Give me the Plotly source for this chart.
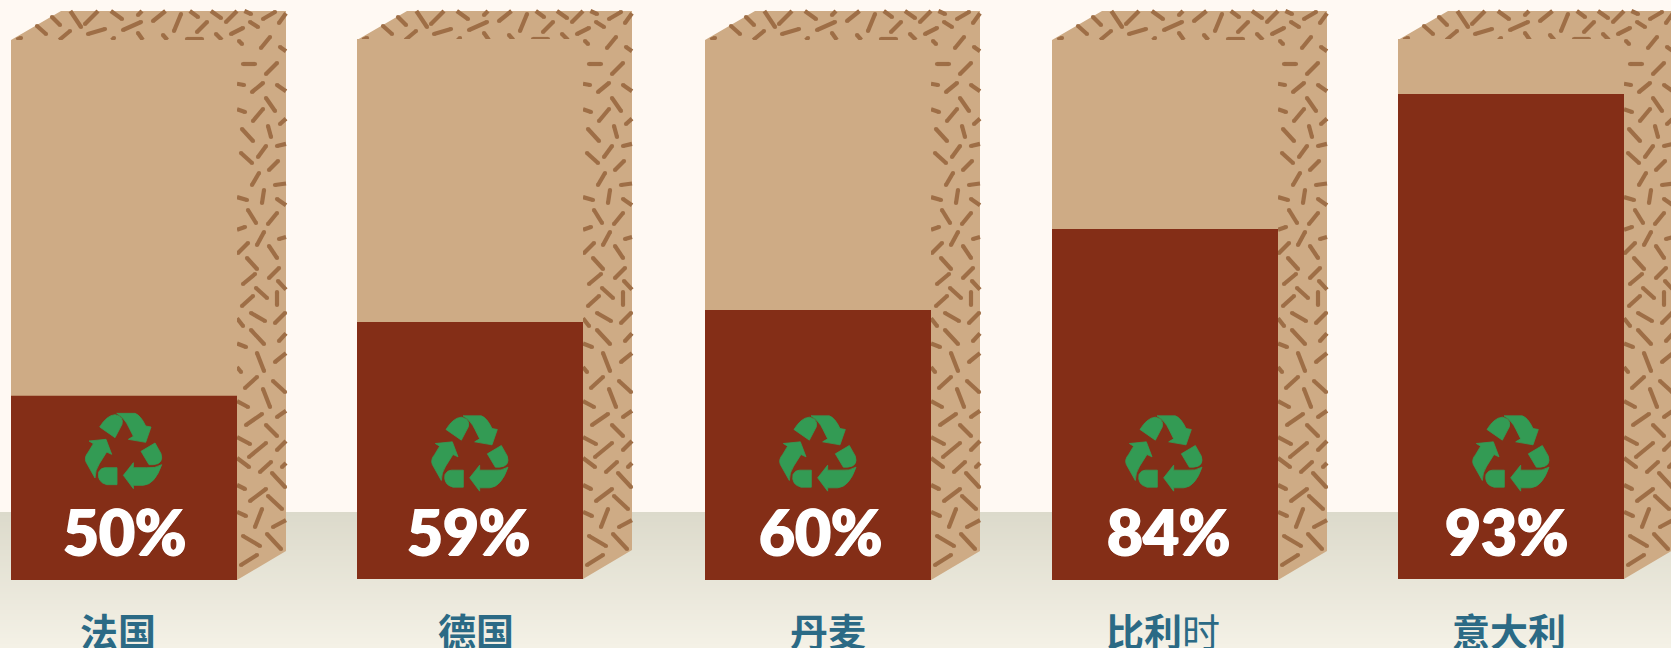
import plotly.graph_objects as go

# ---- data ----
countries = ["<b>法国</b>", "<b>德国</b>", "<b>丹麦</b>", "<b>比利</b>时", "<b>意大利</b>"]
percent_labels = ["50%", "59%", "60%", "84%", "93%"]
fill_levels = [34.1, 47.6, 50.0, 65.0, 89.8]      # drawn height of the dark fill, % of the box
box_levels = [100, 100, 100, 100, 100]

# ---- layout constants (pixels) ----
W, H = 1671, 648
box_left = [11, 357, 705, 1052, 1398]
box_bottom = [580, 579, 580, 580, 579]
FRONT_W, BOX_TOP, BOX_H, DEPTH_X, DEPTH_Y = 226, 40, 540, 49, 29
value_x = [124.7, 468, 820.6, 1168, 1506]
label_x = [117.5, 476, 828, 1163, 1509]
icon_x = [123.7, 470, 818, 1164, 1511]
icon_y = [451, 453.5, 453.5, 453.5, 453.5]
PX_PER_LEVEL = BOX_H / 100

BG = "#FFF9F3"
TAN = "#CEAB85"
FILL = "#842E17"
DASH = "#9E6E46"
GREEN = "#339B54"
BLUE = "#2B6A85"
FLOOR_TOP = (220, 218, 203)
FLOOR_BOTTOM = (244, 241, 230)
FLOOR_Y = 512

# texture of the cardboard (one box, pixels)
speckles = [
    (52,17,60,25),(69,9,81,27),(37,26,46,34),(85,24,100,9),(108,9,122,19),(138,15,144,9),(153,21,168,9),
    (174,31,181,14),(187,9,198,17),(208,9,221,18),(226,22,239,9),(240,9,251,14),(197,32,207,22),(123,30,141,22),
    (88,34,105,29),(58,41,70,31),(12,42,21,38),(108,43,114,38),(138,33,145,43),(163,35,170,43),(187,39,202,39),
    (216,34,225,43),(231,34,243,28),(250,22,258,27),(263,19,275,12),(279,23,289,9),(239,41,242,44),(261,48,270,37),
    (280,47,290,54),(243,64,255,64),(266,74,277,63),(233,83,244,85),(252,92,263,83),(277,85,290,94),(266,98,275,111),
    (233,108,245,112),(253,121,263,109),(280,124,290,115),(242,129,253,141),(268,126,271,137),(277,146,290,143),
    (258,157,266,146),(241,153,252,163),(269,170,278,161),(252,185,259,173),(275,185,290,183),(233,196,247,200),
    (262,203,264,190),(277,199,290,208),(248,210,256,223),(268,224,277,213),(233,231,245,227),(257,245,264,232),
    (279,239,290,236),(238,253,248,243),(269,246,277,258),(247,258,257,269),(269,278,279,268),(243,284,255,274),
    (278,281,290,294),(256,288,267,298),(242,306,253,296),(277,305,277,292),(251,313,265,321),(275,323,285,313),
    (233,313,243,326),(251,330,264,344),(279,341,290,329),(233,342,246,347),(257,353,264,371),(275,362,290,350),
    (233,362,241,372),(245,388,257,377),(273,381,285,392),(263,389,270,407),(233,399,248,407),(246,425,262,414),
    (277,417,290,408),(266,425,277,436),(233,435,250,444),(249,457,266,443),(277,450,290,437),(233,455,249,467),
    (260,472,271,462),(282,467,290,459),(272,473,285,487),(233,483,245,489),(250,501,266,489),(268,496,282,509),
    (233,510,246,516),(255,527,262,509),(273,527,290,518),(243,536,260,546),(267,534,281,549),(241,565,257,555),
    (248,573,254,569),
]
TOP_POLY = [(11,40),(61,11),(286,11),(237,40)]
SIDE_POLY = [(237,40),(286,11),(286,550),(237,579)]


def clip(seg, poly):
    """Cyrus-Beck clip of a segment to a clockwise (on screen) convex polygon."""
    x0, y0, x1, y1 = seg
    dx, dy = x1 - x0, y1 - y0
    t0, t1 = 0.0, 1.0
    for i in range(len(poly)):
        ax, ay = poly[i]
        bx, by = poly[(i + 1) % len(poly)]
        nx, ny = -(by - ay), bx - ax          # inward normal
        d = nx * dx + ny * dy
        n = nx * (x0 - ax) + ny * (y0 - ay)
        if d == 0:
            if n < 0:
                return None
        elif d > 0:
            t0 = max(t0, -n / d)
        else:
            t1 = min(t1, -n / d)
    if t0 >= t1:
        return None
    return (x0 + t0 * dx, y0 + t0 * dy, x0 + t1 * dx, y0 + t1 * dy, t0 == 0.0, t1 == 1.0)


line_x, line_y, cap_x, cap_y = [], [], [], []
for left in box_left:
    off = left - box_left[0]
    for seg in speckles:
        for poly in (TOP_POLY, SIDE_POLY):
            c = clip(seg, poly)
            if c is None:
                continue
            x0, y0, x1, y1, keep0, keep1 = c
            line_x += [x0 + off, x1 + off, None]
            line_y += [y0, y1, None]
            if keep0:
                cap_x.append(x0 + off); cap_y.append(y0)
            if keep1:
                cap_x.append(x1 + off); cap_y.append(y1)

shapes = []
# floor gradient
steps = (H - FLOOR_Y) // 2
for i in range(steps):
    f = i / (steps - 1)
    rgb = tuple(round(a + (b - a) * f) for a, b in zip(FLOOR_TOP, FLOOR_BOTTOM))
    shapes.append(dict(type="rect", xref="x", yref="y", layer="below",
                       x0=0, x1=W, y0=FLOOR_Y + i * 2, y1=FLOOR_Y + i * 2 + 2.5,
                       fillcolor="rgb(%d,%d,%d)" % rgb, line_width=0))

# top and side faces
for left, bottom in zip(box_left, box_bottom):
    right = left + FRONT_W
    shapes.append(dict(type="path", xref="x", yref="y", layer="below", fillcolor=TAN, line_width=0,
                       path=f"M{left},{BOX_TOP}L{left+DEPTH_X+1},{BOX_TOP-DEPTH_Y}L{right+DEPTH_X},{BOX_TOP-DEPTH_Y}"
                            f"L{right+DEPTH_X},{bottom-DEPTH_Y}L{right},{bottom}L{right},{BOX_TOP}Z"))

# recycling symbol, outline units are 1/3 px around (371,212)
ICON = [
    [("M",299,140),("Q",320,105,345,103),("Q",372,108,366,132),("L",345,172)],
    [("M",350,99),("L",405,99),("Q",422,105,437,137),("L",453,140),("L",437,186),("L",385,177),("L",400,168),("L",386,140),("Q",375,115,350,99)],
    [("M",423,213),("L",465,188),("L",483,220),("Q",492,250,460,253),("L",447,253)],
    [("M",485,253),("Q",465,312,430,315),("L",400,315),("L",400,325),("L",370,285),("L",400,247),("L",400,262),("L",440,262),("Q",465,265,485,253)],
    [("M",351,262),("L",351,313),("L",320,313),("Q",290,305,296,275),("Q",303,262,315,262)],
    [("M",285,293),("L",258,245),("Q",252,230,265,215),("L",280,190),("L",267,182),("L",318,177),("L",335,222),("L",320,215),("L",298,250),("Q",285,270,285,293)],
]
for cx, cy in zip(icon_x, icon_y):
    d = ""
    for piece in ICON:
        for cmd in piece:
            pts = cmd[1:]
            mapped = [(cx + (pts[k] - 371) / 3, cy + (pts[k + 1] - 212) / 3) for k in range(0, len(pts), 2)]
            d += cmd[0] + " ".join(f"{a:.2f},{b:.2f}" for a, b in mapped)
        d += "Z"
    shapes.append(dict(type="path", xref="x", yref="y", layer="above", fillcolor=GREEN, line_color=GREEN,
                       line_width=0.8, path=d))

fig = go.Figure()
fig.add_trace(go.Scatter(x=line_x, y=line_y, mode="lines", line=dict(color=DASH, width=4.2),
                         hoverinfo="skip", showlegend=False))
fig.add_trace(go.Scatter(x=cap_x, y=cap_y, mode="markers", marker=dict(color=DASH, size=4.2, line_width=0),
                         hoverinfo="skip", showlegend=False))

# fronts are in an overlaid subplot, so they sit on top of the texture; y2 is in % of the box
front_x = [l + FRONT_W / 2 for l in box_left]
bases = [(580 - b) / PX_PER_LEVEL for b in box_bottom]
fig.add_trace(go.Bar(x=front_x, y=box_levels, base=bases, width=FRONT_W, marker=dict(color=TAN, line_width=0),
                     xaxis="x2", yaxis="y2", hoverinfo="skip", showlegend=False))
fig.add_trace(go.Bar(x=front_x, y=fill_levels, base=bases, width=FRONT_W, marker=dict(color=FILL, line_width=0),
                     xaxis="x2", yaxis="y2", showlegend=False, customdata=percent_labels,
                     hovertemplate="%{customdata}<extra></extra>"))

annotations = []
for x, t in zip(value_x, percent_labels):
    annotations.append(dict(x=x, y=530.5, xref="x", yref="y", text=t, showarrow=False, xanchor="center", yanchor="middle",
                            font=dict(family="Lato", size=62, color="white", weight=900,
                                      shadow="1px 0 0 white, -1px 0 0 white, 0 1px 0 white")))
for x, t in zip(label_x, countries):
    annotations.append(dict(x=x, y=629.5, xref="x", yref="y", text=t, showarrow=False, xanchor="center", yanchor="middle",
                            font=dict(family="Noto Sans CJK SC", size=38, color=BLUE)))

hidden = dict(visible=False, fixedrange=True)
fig.update_layout(
    width=W, height=H, margin=dict(l=0, r=0, t=0, b=0), autosize=False,
    paper_bgcolor=BG, plot_bgcolor=BG, barmode="overlay", showlegend=False,
    xaxis=dict(range=[0, W], **hidden),
    yaxis=dict(range=[H, 0], **hidden),
    xaxis2=dict(range=[0, W], overlaying="x", **hidden),
    yaxis2=dict(range=[-(H - 580) / PX_PER_LEVEL, 580 / PX_PER_LEVEL], overlaying="y", **hidden),
    shapes=shapes, annotations=annotations,
)
fig.write_html("out.html", config={"displayModeBar": False},
               post_script="document.body.style.margin='0';document.body.style.overflow='hidden';")
